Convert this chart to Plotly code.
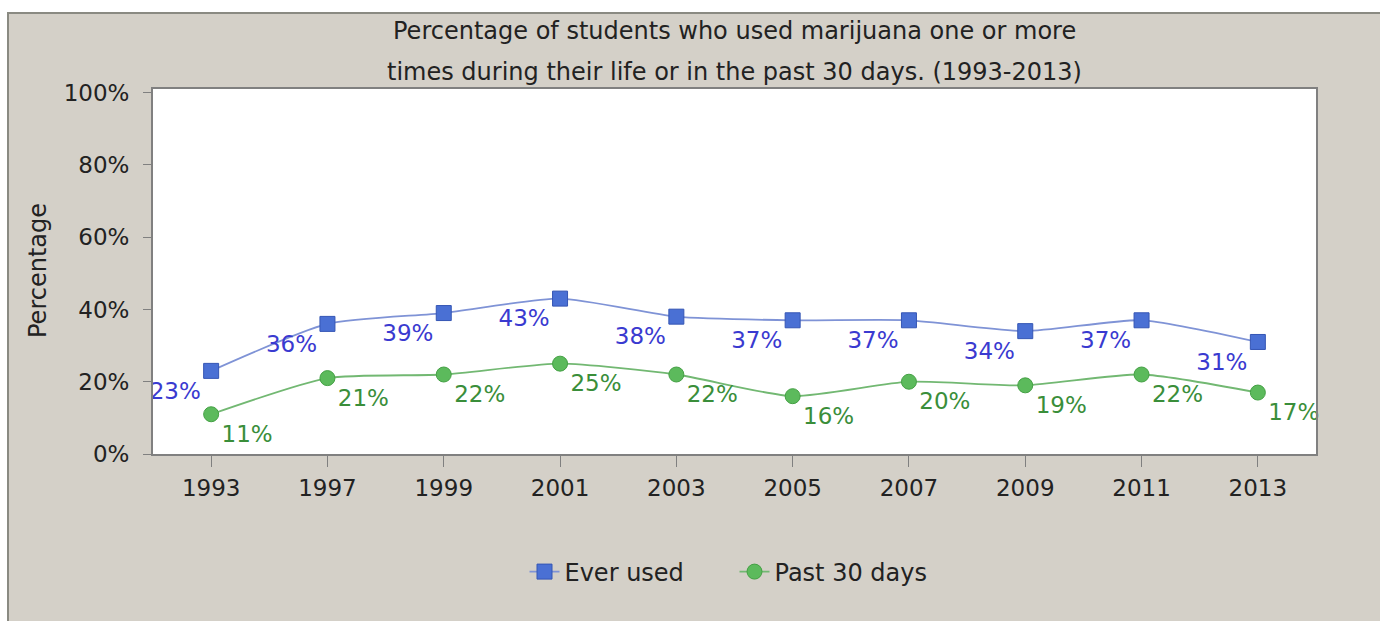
import plotly.graph_objects as go

years = ["1993", "1997", "1999", "2001", "2003", "2005", "2007", "2009", "2011", "2013"]
ever_used = [23, 36, 39, 43, 38, 37, 37, 34, 37, 31]
past_30 = [11, 21, 22, 25, 22, 16, 20, 19, 22, 17]
y_ticks = [0, 20, 40, 60, 80, 100]
y_tick_labels = ["0%", "20%", "40%", "60%", "80%", "100%"]

FONT = "DejaVu Sans"
BG = "#d4d0c8"

fig = go.Figure()
fig.add_trace(go.Scatter(
    x=years, y=ever_used, name="Ever used", mode="lines+markers+text",
    line=dict(color="#7f93d6", width=1.8, shape="spline", smoothing=0.6),
    marker=dict(symbol="square", size=15, color="#4a70d4", line=dict(color="#3556b4", width=1)),
    text=[f"{v}%" for v in ever_used], textposition="bottom left",
    textfont=dict(family=FONT, size=23, color="#3a3ad0"),
    cliponaxis=False,
))
fig.add_trace(go.Scatter(
    x=years, y=past_30, name="Past 30 days", mode="lines+markers+text",
    line=dict(color="#72b872", width=1.8, shape="spline", smoothing=0.6),
    marker=dict(symbol="circle", size=15, color="#5cba5c", line=dict(color="#44a044", width=1)),
    text=[f"{v}%" for v in past_30], textposition="bottom right",
    textfont=dict(family=FONT, size=23, color="#3a8e3a"),
    cliponaxis=False,
))

L, R, T, B = 153, 64, 89, 167
W, H = 1380, 621
pw, ph = W - L - R, H - T - B

def px_x(x):
    return (x - L) / pw

def px_y(y):
    return 1 - (y - T) / ph

fig.update_layout(
    width=W, height=H,
    margin=dict(l=L, r=R, t=T, b=B),
    paper_bgcolor=BG, plot_bgcolor="white",
    font=dict(family=FONT, size=22, color="#222222"),
    showlegend=True,
    legend=dict(orientation="h", x=0.5, xanchor="center", y=px_y(572), yanchor="middle",
                entrywidth=165, entrywidthmode="pixels",
                font=dict(family=FONT, size=24, color="#222222"), bgcolor="rgba(0,0,0,0)"),
    xaxis=dict(type="category", range=[-0.5, 9.5], showgrid=False, showline=True, mirror=True,
               linecolor="#808080", linewidth=2, ticks="outside", ticklen=11, tickcolor="#808080",
               tickwidth=1, tickfont=dict(family=FONT, size=23, color="#222222"), ticklabelstandoff=1),
    yaxis=dict(range=[0, 101], tickvals=y_ticks, ticktext=y_tick_labels, showgrid=False,
               showline=True, mirror=True, linecolor="#808080", linewidth=2, ticks="outside",
               ticklen=8, tickcolor="#808080", tickwidth=1,
               tickfont=dict(family=FONT, size=23, color="#222222"), ticklabelstandoff=9,
               zeroline=False),
    shapes=[
        dict(type="rect", xref="paper", yref="paper", x0=px_x(0), x1=px_x(W), y0=px_y(0), y1=px_y(12),
             fillcolor="white", line=dict(width=0), layer="below"),
        dict(type="rect", xref="paper", yref="paper", x0=px_x(0), x1=px_x(7), y0=px_y(H), y1=px_y(0),
             fillcolor="white", line=dict(width=0), layer="below"),
        dict(type="line", xref="paper", yref="paper", x0=px_x(7), x1=px_x(W), y0=px_y(13), y1=px_y(13),
             line=dict(color="#8a8a82", width=2)),
        dict(type="line", xref="paper", yref="paper", x0=px_x(8), x1=px_x(8), y0=px_y(13), y1=px_y(H),
             line=dict(color="#8a8a82", width=2)),
    ],
    annotations=[
        dict(text="Percentage of students who used marijuana one or more", xref="paper", yref="paper",
             x=0.5, y=px_y(31), xanchor="center", yanchor="middle", showarrow=False,
             font=dict(family=FONT, size=24, color="#222222")),
        dict(text="times during their life or in the past 30 days. (1993-2013)", xref="paper", yref="paper",
             x=0.5, y=px_y(72), xanchor="center", yanchor="middle", showarrow=False,
             font=dict(family=FONT, size=24, color="#222222")),
        dict(text="Percentage", xref="paper", yref="paper", x=px_x(38), y=px_y(271),
             xanchor="center", yanchor="middle", textangle=-90, showarrow=False,
             font=dict(family=FONT, size=24, color="#222222")),
    ],
)

fig.write_html("out.html", config={"displayModeBar": False},
               post_script="document.body.style.margin='0';")
